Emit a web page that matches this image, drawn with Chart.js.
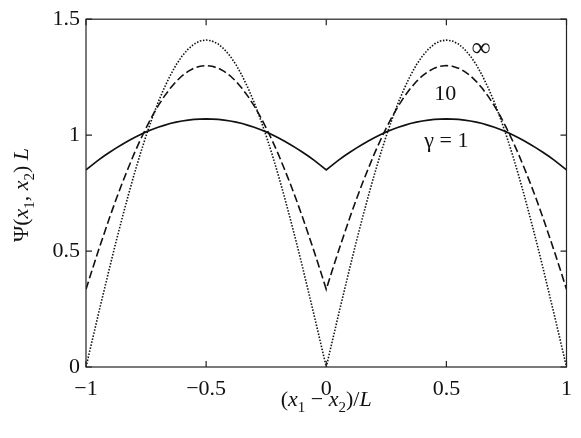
<!DOCTYPE html>
<html>
<head>
<meta charset="utf-8">
<script src="https://cdn.jsdelivr.net/npm/chart.js@4.4.1/dist/chart.umd.min.js"></script>
<style>
  html, body { margin: 0; padding: 0; background: #fff; }
  #wrap { width: 581px; height: 438px; }
</style>
</head>
<body>
<div id="wrap"><canvas id="psi"></canvas></div>
<script>
// (x1 - x2)/L sample positions
var xs = [-1,-0.975,-0.95,-0.925,-0.9,-0.875,-0.85,-0.825,-0.8,-0.775,-0.75,-0.725,-0.7,-0.675,-0.65,-0.625,-0.6,-0.575,-0.55,-0.525,
          -0.5,-0.475,-0.45,-0.425,-0.4,-0.375,-0.35,-0.325,-0.3,-0.275,-0.25,-0.225,-0.2,-0.175,-0.15,-0.125,-0.1,-0.075,-0.05,-0.025,
          0,0.025,0.05,0.075,0.1,0.125,0.15,0.175,0.2,0.225,0.25,0.275,0.3,0.325,0.35,0.375,0.4,0.425,0.45,0.475,
          0.5,0.525,0.55,0.575,0.6,0.625,0.65,0.675,0.7,0.725,0.75,0.775,0.8,0.825,0.85,0.875,0.9,0.925,0.95,0.975,1];

// gamma = 1 (solid)
var psiG1 = [0.850,0.871,0.891,0.910,0.927,0.944,0.960,0.975,0.989,1.002,1.014,1.024,1.034,1.042,1.050,1.056,1.061,1.065,1.068,1.069,
             1.070,1.069,1.068,1.065,1.061,1.056,1.050,1.042,1.034,1.024,1.014,1.002,0.989,0.975,0.960,0.944,0.927,0.910,0.891,0.871,
             0.850,0.871,0.891,0.910,0.927,0.944,0.960,0.975,0.989,1.002,1.014,1.024,1.034,1.042,1.050,1.056,1.061,1.065,1.068,1.069,
             1.070,1.069,1.068,1.065,1.061,1.056,1.050,1.042,1.034,1.024,1.014,1.002,0.989,0.975,0.960,0.944,0.927,0.910,0.891,0.871,0.850];
// gamma = 10 (dashed)
var psiG10 = [0.335,0.417,0.497,0.574,0.650,0.722,0.791,0.856,0.919,0.977,1.031,1.081,1.126,1.166,1.201,1.231,1.256,1.275,1.289,1.297,
              1.300,1.297,1.289,1.275,1.256,1.231,1.201,1.166,1.126,1.081,1.031,0.977,0.919,0.856,0.791,0.722,0.650,0.574,0.497,0.417,
              0.335,0.417,0.497,0.574,0.650,0.722,0.791,0.856,0.919,0.977,1.031,1.081,1.126,1.166,1.201,1.231,1.256,1.275,1.289,1.297,
              1.300,1.297,1.289,1.275,1.256,1.231,1.201,1.166,1.126,1.081,1.031,0.977,0.919,0.856,0.791,0.722,0.650,0.574,0.497,0.417,0.335];
// gamma = infinity (dotted)
var psiInf = [0,0.111,0.221,0.329,0.436,0.540,0.640,0.737,0.829,0.916,0.997,1.072,1.141,1.202,1.256,1.303,1.341,1.371,1.393,1.406,
              1.410,1.406,1.393,1.371,1.341,1.303,1.256,1.202,1.141,1.072,0.997,0.916,0.829,0.737,0.640,0.540,0.436,0.329,0.221,0.111,
              0,0.111,0.221,0.329,0.436,0.540,0.640,0.737,0.829,0.916,0.997,1.072,1.141,1.202,1.256,1.303,1.341,1.371,1.393,1.406,
              1.410,1.406,1.393,1.371,1.341,1.303,1.256,1.202,1.141,1.072,0.997,0.916,0.829,0.737,0.640,0.540,0.436,0.329,0.221,0.111,0];

var xTicks = [-1, -0.5, 0, 0.5, 1];
var xTickLabels = ["\u22121", "\u22120.5", "0", "0.5", "1"];
var yTicks = [0, 0.5, 1, 1.5];
var yTickLabels = ["0", "0.5", "1", "1.5"];

// curve labels placed in data coordinates
var curveLabels = [
  { text: "\u221E", x: 0.645, y: 1.37, size: 27 },
  { text: "10", x: 0.495, y: 1.175, size: 22 },
  { text: "\u03B3 = 1", x: 0.5, y: 0.975, size: 22 }
];

var FONT = "'Liberation Serif', 'Times New Roman', serif";

function pts(vals) {
  return xs.map(function (x, i) { return { x: x, y: vals[i] }; });
}

// draws text pieces with italic / subscript parts, centred on (cx, cy)
function drawRich(ctx, parts, cx, cy, size) {
  var subSize = Math.round(size * 0.7);
  var total = 0;
  parts.forEach(function (p) {
    ctx.font = (p.it ? "italic " : "") + (p.sub ? subSize : size) + "px " + FONT;
    p.w = ctx.measureText(p.t).width;
    total += p.w;
  });
  var x = cx - total / 2;
  ctx.textAlign = "left";
  ctx.textBaseline = "middle";
  parts.forEach(function (p) {
    ctx.font = (p.it ? "italic " : "") + (p.sub ? subSize : size) + "px " + FONT;
    ctx.fillText(p.t, x, cy + (p.sub ? size * 0.38 : 0));
    x += p.w;
  });
}

var frame = {
  id: "frame",
  afterDatasetsDraw: function (chart) {
    var ctx = chart.ctx, a = chart.chartArea;
    var sx = chart.scales.x, sy = chart.scales.y;
    ctx.save();
    ctx.strokeStyle = "#222";
    ctx.lineWidth = 1.2;
    ctx.strokeRect(a.left, a.top, a.right - a.left, a.bottom - a.top);
    var tl = 6;
    ctx.beginPath();
    xTicks.forEach(function (v) {
      var px = sx.getPixelForValue(v);
      ctx.moveTo(px, a.bottom); ctx.lineTo(px, a.bottom - tl);
      ctx.moveTo(px, a.top); ctx.lineTo(px, a.top + tl);
    });
    yTicks.forEach(function (v) {
      var py = sy.getPixelForValue(v);
      ctx.moveTo(a.left, py); ctx.lineTo(a.left + tl, py);
      ctx.moveTo(a.right, py); ctx.lineTo(a.right - tl, py);
    });
    ctx.stroke();

    ctx.fillStyle = "#111";
    ctx.textAlign = "center";
    ctx.textBaseline = "middle";
    curveLabels.forEach(function (l) {
      ctx.font = l.size + "px " + FONT;
      ctx.fillText(l.text, sx.getPixelForValue(l.x), sy.getPixelForValue(l.y));
    });

    // x axis title
    drawRich(ctx, [
      { t: "(" }, { t: "x", it: true }, { t: "1", sub: true }, { t: " \u2212 " },
      { t: "x", it: true }, { t: "2", sub: true }, { t: ")/" }, { t: "L", it: true }
    ], (a.left + a.right) / 2, a.bottom + 33, 22);

    // y axis title
    ctx.save();
    ctx.translate(22, 195);
    ctx.rotate(-Math.PI / 2);
    drawRich(ctx, [
      { t: "\u03A8(" }, { t: "x", it: true }, { t: "1", sub: true }, { t: ", " },
      { t: "x", it: true }, { t: "2", sub: true }, { t: ") " }, { t: "L", it: true }
    ], 0, 0, 22);
    ctx.restore();
    ctx.restore();
  }
};

function draw() {
  new Chart(document.getElementById("psi").getContext("2d"), {
    type: "line",
    data: {
      datasets: [{
        label: "gamma = 1",
        data: pts(psiG1),
        borderColor: "#111",
        borderWidth: 1.7,
        pointRadius: 0,
        tension: 0,
        fill: false
      }, {
        label: "gamma = 10",
        data: pts(psiG10),
        borderColor: "#111",
        borderWidth: 1.6,
        borderDash: [8, 3.5],
        pointRadius: 0,
        tension: 0,
        fill: false
      }, {
        label: "gamma = inf",
        data: pts(psiInf),
        borderColor: "#111",
        borderWidth: 1.6,
        borderDash: [1.5, 1.6],
        pointRadius: 0,
        tension: 0,
        fill: false
      }]
    },
    options: {
      responsive: true,
      maintainAspectRatio: false,
      animation: false,
      layout: { padding: { top: 14, right: 13, left: 0, bottom: 0 } },
      plugins: {
        legend: { display: false },
        tooltip: { enabled: false }
      },
      scales: {
        x: {
          type: "linear",
          min: -1, max: 1,
          afterBuildTicks: function (s) { s.ticks = xTicks.map(function (v) { return { value: v }; }); },
          afterFit: function (s) { s.height = 71; },
          grid: { display: false, drawTicks: false },
          border: { display: false },
          ticks: {
            padding: 9,
            color: "#111",
            font: { family: FONT, size: 22 },
            maxRotation: 0,
            callback: function (v) { return xTickLabels[xTicks.indexOf(v)]; }
          }
        },
        y: {
          type: "linear",
          min: 0, max: 1.5,
          afterBuildTicks: function (s) { s.ticks = yTicks.map(function (v) { return { value: v }; }); },
          afterFit: function (s) { s.width = 86; },
          grid: { display: false, drawTicks: false },
          border: { display: false },
          ticks: {
            padding: 6,
            color: "#111",
            font: { family: FONT, size: 22 },
            callback: function (v) { return yTickLabels[yTicks.indexOf(v)]; }
          }
        }
      }
    },
    plugins: [frame]
  });
}

Promise.all([
  document.fonts.load("22px 'Liberation Serif'"),
  document.fonts.load("italic 22px 'Liberation Serif'")
]).then(draw, draw);
</script>
</body>
</html>
